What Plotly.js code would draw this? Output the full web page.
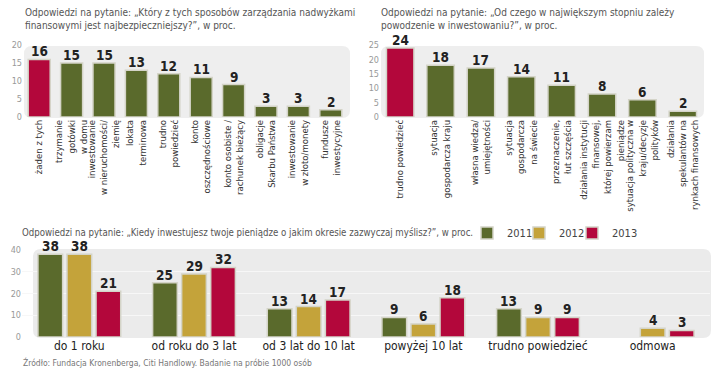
<!DOCTYPE html>
<html><head><meta charset="utf-8">
<script src="https://cdn.plot.ly/plotly-3.0.1.min.js"></script>
<style>html,body{margin:0;padding:0;background:#fff}#chart{width:720px;height:370px}</style>
</head><body><div id="chart"></div>
<script>
// ---- data ----
const safeCats = ["żaden z tych","trzymanie<br>gotówki<br>w domu","inwestowanie<br>w nieruchomości/<br>ziemię","lokata<br>terminowa","trudno<br>powiedzieć","konto<br>oszczędnościowe","konto osobiste /<br>rachunek bieżący","obligacje<br>Skarbu Państwa","inwestowanie<br>w złoto/monety","fundusze<br>inwestycyjne"];
const safeVals = [16,15,15,13,12,11,9,3,3,2];
const successCats = ["trudno powiedzieć","sytuacja<br>gospodarcza kraju","własna wiedza/<br>umiejętności","sytuacja<br>gospodarcza<br>na świecie","przeznaczenie,<br>łut szczęścia","działania instytucji<br>finansowej,<br>której powierzam<br>pieniądze","sytuacja polityczna w<br>kraju/decyzje<br>polityków","działania<br>spekulantów na<br>rynkach finansowych"];
const successVals = [24,18,17,14,11,8,6,2];
const horizonCats = ["do 1 roku","od roku do 3 lat","od 3 lat do 10 lat","powyżej 10 lat","trudno powiedzieć","odmowa"];
const years = ["2011","2012","2013"];
const v2011 = [38,25,13,9,13,null];
const v2012 = [38,29,14,6,9,4];
const v2013 = [21,32,17,18,9,3];

// ---- style ----
const RED = "#b3073b", GREEN = "#5a6a2c", GOLD = "#c4a33a";
const FONT = "DejaVu Sans Condensed, Roboto, sans-serif";
const NUMFONT = {family: FONT, size: 13.5, color: "#222", weight: 700};
const W = 720, H = 370;
const X = p => p / W, Y = p => 1 - p / H;
function rrect(x0, y0, x1, y1, r) {
  return `M${X(x0+r)},${Y(y0)} L${X(x1-r)},${Y(y0)} Q${X(x1)},${Y(y0)} ${X(x1)},${Y(y0+r)} ` +
         `L${X(x1)},${Y(y1-r)} Q${X(x1)},${Y(y1)} ${X(x1-r)},${Y(y1)} L${X(x0+r)},${Y(y1)} ` +
         `Q${X(x0)},${Y(y1)} ${X(x0)},${Y(y1-r)} L${X(x0)},${Y(y0+r)} Q${X(x0)},${Y(y0)} ${X(x0+r)},${Y(y0)} Z`;
}
const barLine = {color: "#d4d4c8", width: 1.5};
const BARGAP = 0.24, GROUPGAP = 0.15;
const B_X0 = 22, B_X1 = 710;

const traces = [
  {type: "bar", x: safeCats, y: safeVals, xaxis: "x", yaxis: "y", width: 0.68, showlegend: false,
   marker: {color: safeVals.map((v, i) => i === 0 ? RED : GREEN), line: barLine}, hoverinfo: "skip"},
  {type: "bar", x: successCats, y: successVals, xaxis: "x2", yaxis: "y2", width: 0.68, showlegend: false,
   marker: {color: successVals.map((v, i) => i === 0 ? RED : GREEN), line: barLine}, hoverinfo: "skip"},
];
const series = [v2011, v2012, v2013];
const seriesColors = [GREEN, GOLD, RED];
series.forEach((vals, i) => {
  traces.push({type: "bar", name: years[i], x: horizonCats, y: vals, xaxis: "x3", yaxis: "y3",
    legend: i === 0 ? "legend" : "legend" + (i + 1),
    marker: {color: seriesColors[i], line: barLine}, hoverinfo: "skip"});
});

// value labels, positioned by the axes from the data
function valueAnns(cats, vals, xref, yref, xshift) {
  return cats.map((c, i) => vals[i] == null ? null : {
    x: c, y: vals[i], xref: xref, yref: yref, text: String(vals[i]), showarrow: false,
    yanchor: "bottom", yshift: -1, xshift: xshift, borderpad: 0, font: NUMFONT
  }).filter(a => a);
}
const pitch = (B_X1 - B_X0) / horizonCats.length * (1 - BARGAP) / series.length;
let valAnns = valueAnns(safeCats, safeVals, "x", "y", 0)
  .concat(valueAnns(successCats, successVals, "x2", "y2", 0));
series.forEach((vals, i) => { valAnns = valAnns.concat(valueAnns(horizonCats, vals, "x3", "y3", (i - 1) * pitch)); });

const catTick = {family: FONT, size: 9.5, color: "#333"};
const valTick = {family: FONT, size: 9, color: "#999"};
const TITLEFONT = {family: FONT, size: 10, color: "#555"};
const legendBase = {orientation: "h", y: Y(233), xanchor: "left", yanchor: "middle",
  font: {family: FONT, size: 11, color: "#444"}, bgcolor: "rgba(0,0,0,0)", itemwidth: 30};
const layout = {
  width: W, height: H, margin: {l: 0, r: 0, t: 0, b: 0},
  paper_bgcolor: "#fff", plot_bgcolor: "rgba(0,0,0,0)",
  barmode: "group", bargap: BARGAP, bargroupgap: GROUPGAP,
  font: {family: FONT, color: "#444"},
  showlegend: true,
  legend: Object.assign({}, legendBase, {x: X(467)}),
  legend2: Object.assign({}, legendBase, {x: X(519)}),
  legend3: Object.assign({}, legendBase, {x: X(572)}),
  xaxis: {domain: [X(23), X(347)], anchor: "y", tickangle: -90, tickfont: catTick, showline: false, ticks: "", fixedrange: true},
  yaxis: {domain: [Y(117), Y(45)], anchor: "x", range: [0, 20], dtick: 5, tickfont: valTick, showgrid: false, zeroline: false, ticks: "", fixedrange: true},
  xaxis2: {domain: [X(380), X(703)], anchor: "y2", tickangle: -90, tickfont: catTick, showline: false, ticks: "", fixedrange: true},
  yaxis2: {domain: [Y(117), Y(45)], anchor: "x2", range: [0, 25], dtick: 5, tickfont: valTick, showgrid: false, zeroline: false, ticks: "", fixedrange: true},
  xaxis3: {domain: [X(B_X0), X(B_X1)], anchor: "y3", tickfont: {family: FONT, size: 12, color: "#222"}, showline: false, ticks: "", fixedrange: true},
  yaxis3: {domain: [Y(337), Y(250)], anchor: "x3", range: [0, 40], dtick: 10, tickfont: valTick, showgrid: true, gridcolor: "#f7f7f7", zeroline: false, ticks: "", fixedrange: true},
  shapes: [
    {type: "path", xref: "paper", yref: "paper", layer: "below", path: rrect(24, 46, 350, 118, 8), fillcolor: "#eeeeee", line: {width: 0}},
    {type: "path", xref: "paper", yref: "paper", layer: "below", path: rrect(381, 46, 704, 118, 8), fillcolor: "#eeeeee", line: {width: 0}},
    {type: "path", xref: "paper", yref: "paper", layer: "below", path: rrect(33, 249, 711, 338, 8), fillcolor: "#ebebeb", line: {width: 0}},
  ],
  annotations: [
    {xref: "paper", yref: "paper", x: X(23), y: Y(5), xanchor: "left", yanchor: "top", align: "left", showarrow: false,
     text: "Odpowiedzi na pytanie: „Który z tych sposobów zarządzania nadwyżkami<br>finansowymi jest najbezpieczniejszy?”, w proc.",
     font: TITLEFONT},
    {xref: "paper", yref: "paper", x: X(379), y: Y(5), xanchor: "left", yanchor: "top", align: "left", showarrow: false,
     text: "Odpowiedzi na pytanie: „Od czego w największym stopniu zależy<br>powodzenie w inwestowaniu?”, w proc.",
     font: TITLEFONT},
    {xref: "paper", yref: "paper", x: X(21), y: Y(232), xanchor: "left", yanchor: "middle", align: "left", showarrow: false,
     borderpad: 0,
     text: "Odpowiedzi na pytanie: „Kiedy inwestujesz twoje pieniądze o jakim okresie zazwyczaj myślisz?”, w proc.",
     font: {family: FONT, size: 9.6, color: "#555"}},
    {xref: "paper", yref: "paper", x: X(21), y: Y(362), xanchor: "left", yanchor: "middle", align: "left", showarrow: false,
     text: "Źródło: Fundacja Kronenberga, Citi Handlowy. Badanie na próbie 1000 osób",
     font: {family: FONT, size: 8.5, color: "#777"}},
  ].concat(valAnns),
};
Plotly.newPlot("chart", traces, layout, {staticPlot: true, displayModeBar: false});
</script></body></html>
